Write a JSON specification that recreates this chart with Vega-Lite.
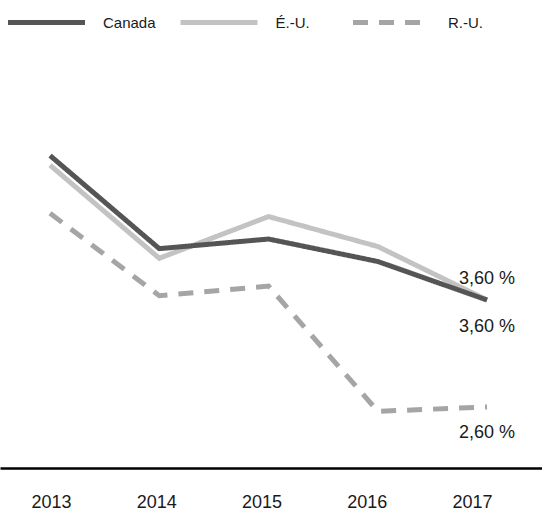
{
  "$schema": "https://vega.github.io/schema/vega-lite/v6.json",
  "width": 542,
  "height": 428,
  "autosize": {"type": "none"},
  "padding": {"top": 40, "left": 0, "right": 0, "bottom": 42},
  "background": "white",
  "config": {
    "view": {"stroke": null},
    "font": "Liberation Sans",
    "legend": {
      "orient": "none",
      "legendX": 5.5,
      "legendY": -58.5,
      "direction": "horizontal",
      "columns": 3,
      "gridAlign": "all",
      "columnPadding": 13.5,
      "padding": 0,
      "symbolType": "stroke",
      "symbolSize": 5929,
      "symbolStrokeWidth": 5,
      "labelFontSize": 15,
      "labelColor": "#1a1a1a",
      "labelOffset": 15.5,
      "labelFont": "Liberation Sans",
      "title": null
    }
  },
  "data": {
    "values": [
      {"year": 2013, "country": "R.-U.", "value": 4.41},
      {"year": 2014, "country": "R.-U.", "value": 3.64},
      {"year": 2015, "country": "R.-U.", "value": 3.73},
      {"year": 2016, "country": "R.-U.", "value": 2.56},
      {"year": 2017, "country": "R.-U.", "value": 2.60},
      {"year": 2013, "country": "É.-U.", "value": 4.86},
      {"year": 2014, "country": "É.-U.", "value": 3.99},
      {"year": 2015, "country": "É.-U.", "value": 4.38},
      {"year": 2016, "country": "É.-U.", "value": 4.10},
      {"year": 2017, "country": "É.-U.", "value": 3.60},
      {"year": 2013, "country": "Canada", "value": 4.95},
      {"year": 2014, "country": "Canada", "value": 4.08},
      {"year": 2015, "country": "Canada", "value": 4.17},
      {"year": 2016, "country": "Canada", "value": 3.96},
      {"year": 2017, "country": "Canada", "value": 3.60}
    ]
  },
  "encoding": {
    "x": {
      "field": "year",
      "type": "quantitative",
      "scale": {"domain": [2012.542, 2017.503], "nice": false, "zero": false},
      "axis": {
        "title": null,
        "values": [2013, 2014, 2015, 2016, 2017],
        "format": "d",
        "grid": false,
        "ticks": false,
        "domainColor": "#000000",
        "domainWidth": 2.5,
        "labelFontSize": 18,
        "labelColor": "#1a1a1a",
        "labelPadding": 25,
        "labelFlush": false,
        "labelOverlap": false,
        "labelOffset": {
          "condition": [
            {"test": "datum.value == 2014", "value": -3},
            {"test": "datum.value == 2015", "value": -7},
            {"test": "datum.value == 2016", "value": -11},
            {"test": "datum.value == 2017", "value": -15}
          ],
          "value": 1
        }
      }
    },
    "y": {
      "field": "value",
      "type": "quantitative",
      "scale": {"domain": [2.03, 6.03], "nice": false, "zero": false},
      "axis": null
    }
  },
  "layer": [
    {
      "mark": {"type": "line", "strokeWidth": 5, "strokeCap": "butt"},
      "encoding": {
        "color": {
          "field": "country",
          "type": "nominal",
          "scale": {"domain": ["Canada", "É.-U.", "R.-U."], "range": ["#555555", "#c3c3c3", "#a5a5a5"]},
          "sort": null
        },
        "strokeDash": {
          "field": "country",
          "type": "nominal",
          "scale": {"domain": ["Canada", "É.-U.", "R.-U."], "range": [[1, 0], [1, 0], [15, 11]]},
          "sort": null
        },
        "order": {"value": 0}
      }
    },
    {
      "transform": [{"filter": "datum.year == 2017 && datum.country == 'É.-U.'"}],
      "mark": {"type": "text", "fontSize": 18, "dy": -21, "align": "center", "baseline": "middle", "color": "#1a1a1a"},
      "encoding": {"text": {"value": "3,60 %"}}
    },
    {
      "transform": [{"filter": "datum.year == 2017 && datum.country == 'Canada'"}],
      "mark": {"type": "text", "fontSize": 18, "dy": 27, "align": "center", "baseline": "middle", "color": "#1a1a1a"},
      "encoding": {"text": {"value": "3,60 %"}}
    },
    {
      "transform": [{"filter": "datum.year == 2017 && datum.country == 'R.-U.'"}],
      "mark": {"type": "text", "fontSize": 18, "dy": 26, "align": "center", "baseline": "middle", "color": "#1a1a1a"},
      "encoding": {"text": {"value": "2,60 %"}}
    }
  ]
}
